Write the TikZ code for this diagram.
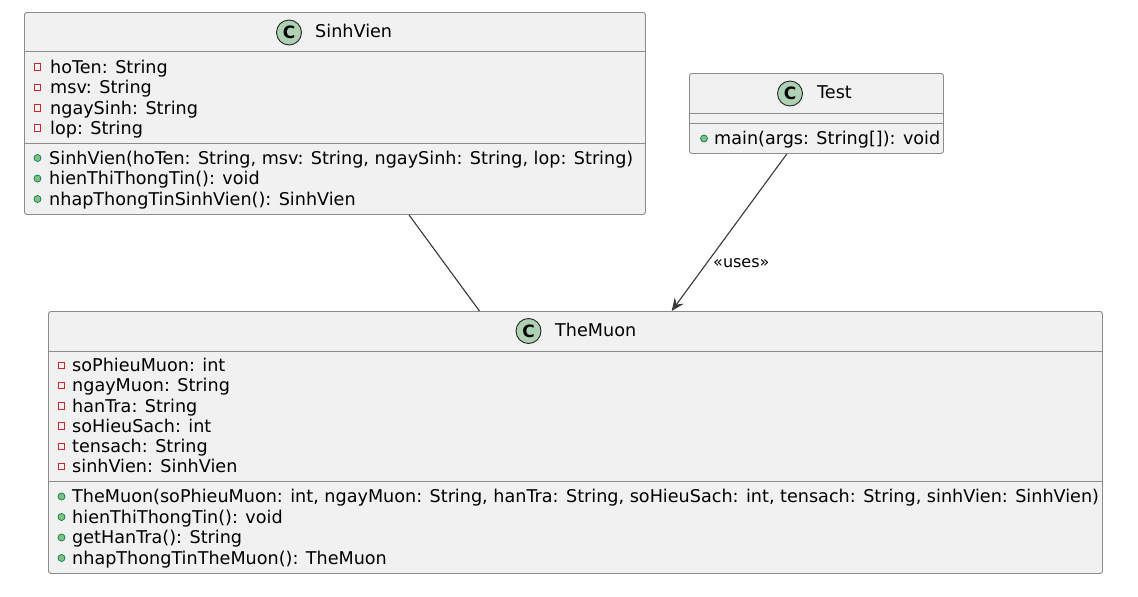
\documentclass[tikz,border=0pt]{standalone}
\usepackage{fontspec}
\setmainfont{DejaVu Sans}
\usetikzlibrary{arrows.meta}
\definecolor{boxfill}{HTML}{F1F1F1}
\definecolor{boxline}{HTML}{8C8C8C}
\definecolor{cfill}{HTML}{ADD1B2}
\definecolor{privred}{HTML}{C82930}
\definecolor{pubfill}{HTML}{84BE84}
\definecolor{publine}{HTML}{038048}
\definecolor{edge}{HTML}{383838}
\tikzset{
  classbox/.style={draw=boxline, fill=boxfill, rounded corners=2.5pt, line width=0.9pt, inner sep=0pt, anchor=north west},
  sepline/.style={draw=boxline, line width=0.9pt},
  member/.style={anchor=west, inner sep=0pt, text height=13pt, text depth=4pt, yshift=-1.5pt, font=\fontsize{17.6}{20}\selectfont},
  title/.style={anchor=west, inner sep=0pt, text height=13pt, text depth=4pt, yshift=-1pt, font=\fontsize{17.6}{20}\selectfont},
  cicon/.style={circle, draw=black!85, fill=cfill, line width=0.9pt, minimum size=25pt, inner sep=0pt, font=\fontsize{17}{17}\selectfont\bfseries},
  privicon/.style={draw=privred, line width=0.8pt, minimum size=6.5pt, inner sep=0pt},
  pubicon/.style={circle, draw=publine, fill=pubfill, line width=0.7pt, minimum size=7pt, inner sep=0pt},
  conn/.style={draw=edge, line width=1.1pt},
  lbl/.style={anchor=west, inner sep=0pt, font=\fontsize{16}{18}\selectfont}
}
\begin{document}
\begin{tikzpicture}[x=1pt,y=-1pt]
\useasboundingbox (0,0) rectangle (1138,597);
\fill[white] (0,0) rectangle (1138,597);

% SinhVien
\node[classbox, minimum width=621pt, minimum height=202pt] (sv) at (24,12) {};
\draw[sepline] (24,51) -- (645,51);
\draw[sepline] (24,143) -- (645,143);
\node[cicon] (svc) at (289,32.5) {C};
\node[title] (svt) at (315,32) {SinhVien};
\node[privicon] (sva1i) at (37.5,67) {};
\node[member] (sva1) at (50,67) {hoTen: String};
\node[privicon] (sva2i) at (37.5,87.5) {};
\node[member] (sva2) at (50,87.5) {msv: String};
\node[privicon] (sva3i) at (37.5,108) {};
\node[member] (sva3) at (50,108) {ngaySinh: String};
\node[privicon] (sva4i) at (37.5,128) {};
\node[member] (sva4) at (50,128) {lop: String};
\node[pubicon] (svm1i) at (37.5,158) {};
\node[member] (svm1) at (49,158) {SinhVien(hoTen: String, msv: String, ngaySinh: String, lop: String)};
\node[pubicon] (svm2i) at (37.5,178.5) {};
\node[member] (svm2) at (49,178.5) {hienThiThongTin(): void};
\node[pubicon] (svm3i) at (37.5,199) {};
\node[member] (svm3) at (49,199) {nhapThongTinSinhVien(): SinhVien};

% Test
\node[classbox, minimum width=254pt, minimum height=80pt] (test) at (689,73) {};
\draw[sepline] (689,113) -- (943,113);
\draw[sepline] (689,123) -- (943,123);
\node[cicon] (tc) at (790,93.5) {C};
\node[title] (tt) at (817,93) {Test};
\node[pubicon] (tm1i) at (704,138.5) {};
\node[member] (tm1) at (714,138.5) {main(args: String[]): void};

% TheMuon
\node[classbox, minimum width=1054pt, minimum height=262pt] (tm) at (48,311) {};
\draw[sepline] (48,351) -- (1102,351);
\draw[sepline] (48,481) -- (1102,481);
\node[cicon] (tmc) at (528.5,331) {C};
\node[title] (tmt) at (555,330.5) {TheMuon};
\node[privicon] (a1i) at (61.5,365.5) {};
\node[member] (a1) at (72,365.5) {soPhieuMuon: int};
\node[privicon] (a2i) at (61.5,385.5) {};
\node[member] (a2) at (72,385.5) {ngayMuon: String};
\node[privicon] (a3i) at (61.5,406) {};
\node[member] (a3) at (72,406) {hanTra: String};
\node[privicon] (a4i) at (61.5,426) {};
\node[member] (a4) at (72,426) {soHieuSach: int};
\node[privicon] (a5i) at (61.5,446.5) {};
\node[member] (a5) at (72,446.5) {tensach: String};
\node[privicon] (a6i) at (61.5,466.5) {};
\node[member] (a6) at (72,466.5) {sinhVien: SinhVien};
\node[pubicon] (m1i) at (61.5,496.5) {};
\node[member] (m1) at (72,496.5) {TheMuon(soPhieuMuon: int, ngayMuon: String, hanTra: String, soHieuSach: int, tensach: String, sinhVien: SinhVien)};
\node[pubicon] (m2i) at (61.5,517) {};
\node[member] (m2) at (72,517) {hienThiThongTin(): void};
\node[pubicon] (m3i) at (61.5,537.5) {};
\node[member] (m3) at (72,537.5) {getHanTra(): String};
\node[pubicon] (m4i) at (61.5,558) {};
\node[member] (m4) at (72,558) {nhapThongTinTheMuon(): TheMuon};

% connectors
\draw[conn, -{Stealth[length=13pt, width=11pt, inset=5pt]}] (test) -- (tm);
\draw[conn] (sv) -- (tm);
\node[lbl] (uses) at (713,263) {«uses»};
\end{tikzpicture}
\end{document}
